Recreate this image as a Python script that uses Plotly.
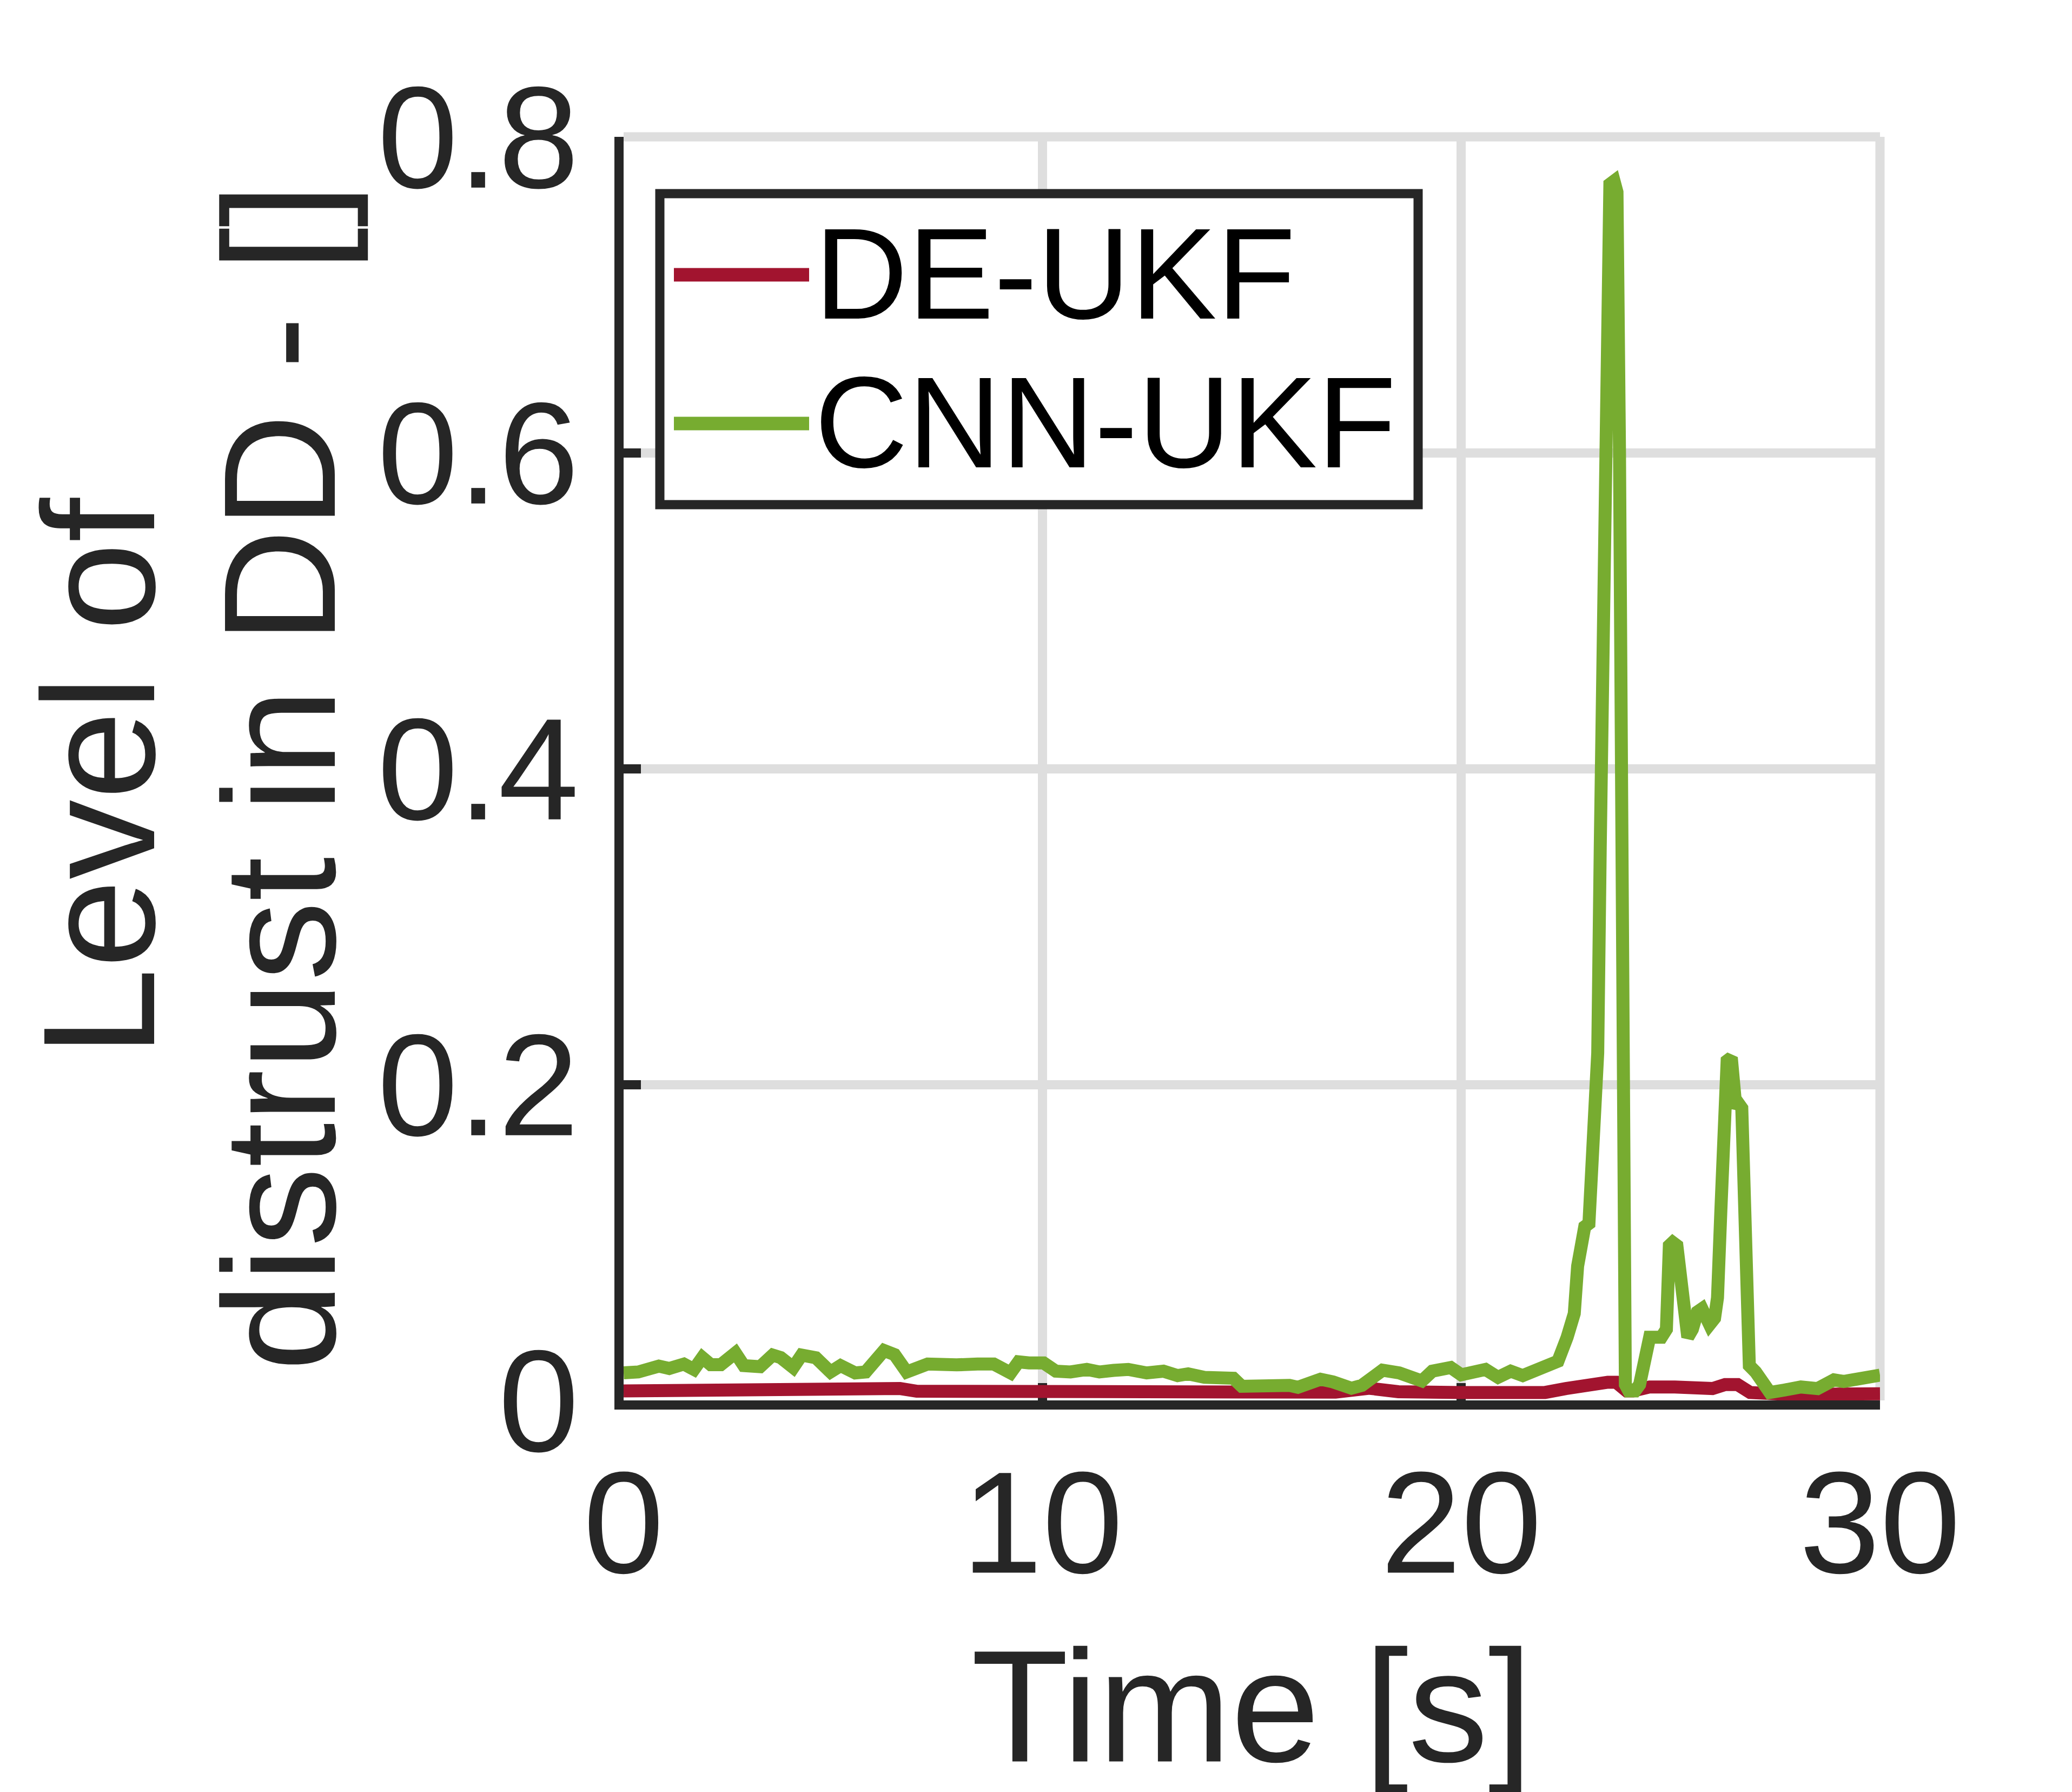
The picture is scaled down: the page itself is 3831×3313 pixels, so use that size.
import plotly.graph_objects as go

# ---------------- data ----------------
cnn_t = [0, 0.35, 0.84, 1.09, 1.44, 1.68, 1.88, 2.08, 2.32, 2.67, 2.87, 3.26, 3.56, 3.75,
         4.05, 4.25, 4.59, 4.94, 5.18, 5.53, 5.78, 6.22, 6.47, 6.76, 7.26,
         7.46, 7.95, 8.45, 8.84, 9.24, 9.43, 9.68, 10.03, 10.32, 10.67, 11.06, 11.36, 11.7,
         12.05, 12.49, 12.89, 13.23, 13.48, 13.87, 14.32, 14.56, 14.76, 15.19,
         15.66, 15.9, 16.1, 16.4, 16.64, 16.94, 17.38, 17.63, 18.12, 18.52, 18.76, 19.06,
         19.31, 19.5, 19.75, 20.0, 20.29, 20.58, 20.88, 21.18, 21.47, 21.77, 22.07, 22.31,
         22.53, 22.62, 22.70, 22.78, 22.87, 22.95, 23.05, 23.13, 23.20, 23.26, 23.32, 23.38,
         23.43, 23.49, 23.55, 23.65, 23.72, 23.78, 23.82, 23.86, 23.92, 24.0, 24.15, 24.26,
         24.37, 24.50, 24.78, 24.90, 24.97, 25.05, 25.15, 25.25, 25.31, 25.41, 25.52, 25.64,
         25.75, 25.85, 25.93, 26.05, 26.12, 26.20, 26.27, 26.35, 26.45, 26.52, 26.56, 26.62,
         26.70, 26.76, 26.82, 26.88, 27.03, 27.20, 27.37, 27.71, 28.11, 28.51, 28.9, 29.13,
         29.53, 30.0]
cnn_v = [0.0175, 0.018, 0.0217, 0.0202, 0.023, 0.0196, 0.0271, 0.0226, 0.0226, 0.030, 0.022,
         0.0213, 0.0287, 0.0271, 0.0208, 0.0287, 0.027, 0.018, 0.022, 0.0174, 0.018, 0.0316,
         0.029, 0.018, 0.023,
         0.0225, 0.0225, 0.023, 0.023, 0.0174, 0.0244, 0.0237, 0.0237, 0.0185, 0.018, 0.0196,
         0.018, 0.019, 0.0196, 0.0174, 0.0185, 0.0157, 0.0168, 0.0146, 0.0134, 0.014, 0.0089,
         0.0095,
         0.0083, 0.0095, 0.0083, 0.0106, 0.0134, 0.0117, 0.0077, 0.0095, 0.0191, 0.0174,
         0.0151, 0.0123, 0.0185, 0.0202, 0.0208, 0.0162, 0.018, 0.0196, 0.0146, 0.0185,
         0.0157, 0.0185, 0.0208, 0.0248,
         0.040, 0.050, 0.055, 0.085, 0.105, 0.110, 0.112, 0.170, 0.175, 0.220, 0.350, 0.500,
         0.650, 0.755, 0.770, 0.772, 0.765, 0.600, 0.300, 0.080, 0.010, 0.006, 0.006, 0.010,
         0.025, 0.040, 0.040, 0.045, 0.098, 0.100, 0.098, 0.070, 0.055, 0.040, 0.045, 0.056,
         0.058, 0.054, 0.048, 0.052, 0.065, 0.120, 0.195, 0.215, 0.217, 0.200, 0.185, 0.188,
         0.185, 0.120, 0.045, 0.022, 0.018, 0.013, 0.005, 0.0065, 0.0085, 0.0075, 0.013, 0.012,
         0.014, 0.016]

de_t = [0, 1, 2, 3, 4, 4.5, 5, 6, 6.6, 7, 8, 10, 12, 14, 15, 16, 17, 17.8, 18.5, 20, 22,
        22.5, 23.0, 23.5, 23.7, 23.95, 24.1, 24.5, 25.1, 25.5, 26.0, 26.3, 26.6, 26.9, 27.3,
        28, 29, 30]
de_v = [0.006, 0.0062, 0.0065, 0.006, 0.0065, 0.0080, 0.0083, 0.0083, 0.0075, 0.0058, 0.0056,
        0.0056, 0.0055, 0.0054, 0.0045, 0.0048, 0.0052, 0.0077, 0.0055, 0.0050, 0.0050,
        0.0075, 0.0105, 0.0115, 0.0115, 0.0060, 0.0060, 0.0085, 0.0085, 0.0075, 0.0075,
        0.0100, 0.0100, 0.0050, 0.0038, 0.0035, 0.0040, 0.0042]

series_names = ["DE-UKF", "CNN-UKF"]
series_colors = ["#A2142F", "#77AC30"]

x_ticks = [0, 10, 20, 30]
y_ticks = [0, 0.2, 0.4, 0.6, 0.8]
y_tick_text = ["0", "0.2", "0.4", "0.6", "0.8"]
y_title_lines = ["Level of", "distrust in DD - []"]

# ---------------- figure ----------------
W, H = 3831, 3313
L, R, T, B = 1145, 3468, 245, 2581
FONT = "Arial, Liberation Sans, Helvetica, sans-serif"
AXC = "#262626"
GRID = "#dedede"
LW = 24

fig = go.Figure()
fig.add_trace(go.Scatter(x=de_t, y=de_v, mode="lines", name=series_names[0],
                         line=dict(color=series_colors[0], width=LW), showlegend=False))
fig.add_trace(go.Scatter(x=cnn_t, y=cnn_v, mode="lines", name=series_names[1],
                         line=dict(color=series_colors[1], width=LW), showlegend=False))

fig.update_layout(
    width=W, height=H,
    margin=dict(l=L, r=W - R, t=T, b=H - B, pad=0),
    paper_bgcolor="white", plot_bgcolor="white",
    font=dict(family=FONT, color=AXC),
    showlegend=False,
)
fig.update_xaxes(
    range=[0, 30], tickvals=x_ticks, ticktext=[str(v) for v in x_ticks],
    showline=True, linecolor=AXC, linewidth=17,
    ticks="inside", ticklen=32, tickwidth=17, tickcolor=AXC,
    showgrid=True, gridcolor=GRID, gridwidth=17, zeroline=False,
    tickfont=dict(size=268, color=AXC, family=FONT),
    ticklabelstandoff=-20,
    title=dict(text="Time [s]", font=dict(size=295, color=AXC, family=FONT), standoff=120),
    layer="below traces", automargin=False,
)
fig.update_yaxes(
    range=[0, 0.8], tickvals=y_ticks, ticktext=y_tick_text,
    showline=True, linecolor=AXC, linewidth=17,
    ticks="inside", ticklen=32, tickwidth=17, tickcolor=AXC,
    showgrid=True, gridcolor=GRID, gridwidth=17, zeroline=False,
    tickfont=dict(size=268, color=AXC, family=FONT),
    ticklabelstandoff=12,
    layer="below traces", automargin=False,
)

pw, ph = R - L, B - T
def px(x):
    return (x - L) / pw
def py(y):
    return (B - y) / ph

# y-axis title (two rotated lines)
for txt, cx in zip(y_title_lines, [175, 510]):
    fig.add_annotation(xref="paper", yref="paper", x=px(cx), y=py(1429),
                       xanchor="center", yanchor="middle", showarrow=False, textangle=-90,
                       text=txt, font=dict(size=295, color=AXC, family=FONT))

# top and right grid edges (box drawn as grid)
fig.add_shape(type="line", xref="paper", yref="paper", x0=0, x1=1, y0=1, y1=1,
              line=dict(color=GRID, width=17), layer="below")
fig.add_shape(type="line", xref="paper", yref="paper", x0=1, x1=1, y0=0, y1=1,
              line=dict(color=GRID, width=17), layer="below")

# custom legend
fig.add_shape(type="rect", xref="paper", yref="paper",
              x0=px(1212), x1=px(2614), y0=py(925), y1=py(350),
              fillcolor="white", line=dict(color=AXC, width=17), layer="above")
rows = [500, 775]
for name, col, ry in zip(series_names, series_colors, rows):
    fig.add_shape(type="line", xref="paper", yref="paper",
                  x0=px(1238), x1=px(1488), y0=py(ry), y1=py(ry),
                  line=dict(color=col, width=25), layer="above")
    fig.add_annotation(xref="paper", yref="paper", x=px(1496), y=py(ry - 2),
                       xanchor="left", yanchor="middle", showarrow=False,
                       text=name, font=dict(size=239, color="black", family=FONT))

fig.write_html("out.html")
